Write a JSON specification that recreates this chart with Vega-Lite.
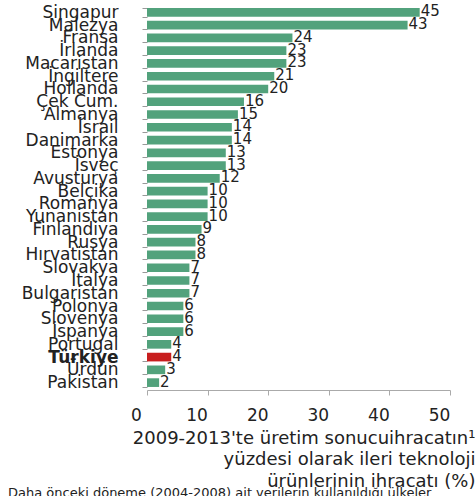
{
  "$schema": "https://vega.github.io/schema/vega-lite/v6.json",
  "autosize": {"type": "none"},
  "padding": {"left": 147, "top": 6, "right": 25, "bottom": 107},
  "width": 303,
  "height": 383,
  "background": "white",
  "title": {
    "text": "Daha önceki döneme (2004-2008) ait verilerin kullanıldığı ülkeler",
    "orient": "bottom",
    "anchor": "start",
    "frame": "group",
    "dx": -139,
    "offset": -3,
    "font": "DejaVu Sans",
    "fontSize": 13,
    "fontWeight": "normal",
    "color": "#222"
  },
  "config": {"view": {"stroke": null}},
  "data": {
    "values": [
      {"country": "Singapur", "value": 45},
      {"country": "Malezya", "value": 43},
      {"country": "Fransa", "value": 24},
      {"country": "İrlanda", "value": 23},
      {"country": "Macaristan", "value": 23},
      {"country": "İngiltere", "value": 21},
      {"country": "Hollanda", "value": 20},
      {"country": "Çek Cum.", "value": 16},
      {"country": "Almanya", "value": 15},
      {"country": "İsrail", "value": 14},
      {"country": "Danimarka", "value": 14},
      {"country": "Estonya", "value": 13},
      {"country": "İsveç", "value": 13},
      {"country": "Avusturya", "value": 12},
      {"country": "Belçika", "value": 10},
      {"country": "Romanya", "value": 10},
      {"country": "Yunanistan", "value": 10},
      {"country": "Finlandiya", "value": 9},
      {"country": "Rusya", "value": 8},
      {"country": "Hırvatistan", "value": 8},
      {"country": "Slovakya", "value": 7},
      {"country": "İtalya", "value": 7},
      {"country": "Bulgaristan", "value": 7},
      {"country": "Polonya", "value": 6},
      {"country": "Slovenya", "value": 6},
      {"country": "İspanya", "value": 6},
      {"country": "Portugal", "value": 4},
      {"country": "Türkiye", "value": 4},
      {"country": "Ürdün", "value": 3},
      {"country": "Pakistan", "value": 2}
    ]
  },
  "encoding": {
    "y": {
      "field": "country",
      "type": "nominal",
      "sort": null,
      "scale": {"paddingInner": 0.32, "paddingOuter": 0.16},
      "axis": {
        "title": null,
        "domain": false,
        "ticks": true,
        "tickBand": "extent",
        "tickSize": 5,
        "tickColor": "#999",
        "labelFont": "DejaVu Sans",
        "labelFontSize": 17,
        "labelColor": "#222",
        "labelPadding": 24,
        "labelFontWeight": {"condition": {"test": "datum.value === 'Türkiye'", "value": "bold"}, "value": "normal"}
      }
    },
    "x": {
      "field": "value",
      "type": "quantitative",
      "scale": {"domain": [0, 50]},
      "axis": {
        "values": [0, 10, 20, 30, 40, 50],
        "grid": false,
        "domainColor": "#aaa",
        "tickColor": "#aaa",
        "tickSize": 5,
        "offset": 1,
        "labelFont": "DejaVu Sans",
        "labelFontSize": 17,
        "labelColor": "#222",
        "labelPadding": 12,
        "labelOffset": -11,
        "labelFlush": false,
        "title": ["2009-2013'te üretim sonucuihracatın¹", "yüzdesi olarak ileri teknoloji", "ürünlerinin ihracatı (%)"],
        "titleFont": "DejaVu Sans",
        "titleFontSize": 18,
        "titleFontWeight": "normal",
        "titleColor": "#222",
        "titleAlign": "right",
        "titleAnchor": null,
        "titleX": 328,
        "titleY": 39,
        "titleBaseline": "top",
        "titleLineHeight": 21.5
      }
    }
  },
  "layer": [
    {
      "mark": {"type": "bar"},
      "encoding": {
        "color": {
          "condition": {"test": "datum.country === 'Türkiye'", "value": "#c81e1e"},
          "value": "#52a27c"
        }
      }
    },
    {
      "mark": {"type": "text", "align": "left", "baseline": "middle", "dx": 1, "dy": -1, "font": "DejaVu Sans", "fontSize": 15, "color": "#222"},
      "encoding": {"text": {"field": "value", "type": "quantitative"}}
    }
  ]
}
